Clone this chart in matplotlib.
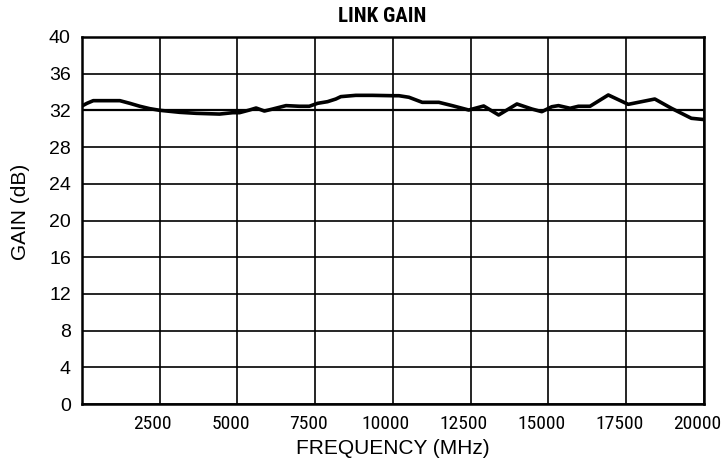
import matplotlib
matplotlib.use("Agg")
import matplotlib.pyplot as plt
import matplotlib.transforms as mtrans

# frequency (MHz) and link gain (dB)
freq = [0, 160, 363, 1218, 1538, 1859, 2179, 2500, 3141, 3675, 4423, 4850,
        5064, 5385, 5599, 5865, 6132, 6560, 6987, 7308, 7575, 7895, 8162,
        8323, 8804, 9338, 9979, 10192, 10513, 10940, 11474, 11902, 12436,
        12917, 13397, 13985, 14466, 14786, 15107, 15321, 15694, 15962, 16336,
        16923, 17564, 18419, 18953, 19594, 19915, 20000]
gain = [32.48, 32.77, 33.06, 33.06, 32.77, 32.45, 32.19, 32.01, 31.79, 31.68,
        31.6, 31.75, 31.75, 32.04, 32.26, 31.93, 32.15, 32.52, 32.45, 32.45,
        32.77, 32.95, 33.24, 33.5, 33.64, 33.64, 33.6, 33.6, 33.43, 32.88,
        32.88, 32.52, 32.04, 32.48, 31.5, 32.7, 32.15, 31.86, 32.4, 32.52,
        32.23, 32.45, 32.45, 33.68, 32.66, 33.24, 32.23, 31.14, 31.03, 31.0]
ref_gain = 32

xticks = [2500, 5000, 7500, 10000, 12500, 15000, 17500, 20000]
yticks = [0, 4, 8, 12, 16, 20, 24, 28, 32, 36, 40]

narrow = ["Liberation Sans Narrow", "Roboto Condensed", "DejaVu Sans"]
plain = ["Liberation Sans", "DejaVu Sans"]

fig = plt.figure(figsize=(7.21, 4.70), dpi=100)
ax = fig.add_axes([0.1137, 0.1404, 0.8627, 0.7809])

ax.plot(freq, gain, color="black", lw=2.6, zorder=3,
        solid_joinstyle="round", solid_capstyle="round")
ax.axhline(ref_gain, color="black", lw=1.6, zorder=2)

ax.set_xlim(0, 20000)
ax.set_ylim(0, 40)
ax.set_xticks([0] + xticks)
ax.set_xticklabels([""] + [str(v) for v in xticks], family=narrow, fontsize=14)
ax.set_yticks(yticks)
ax.set_yticklabels([str(v) for v in yticks], family=plain, fontsize=14)
ax.tick_params(length=0)
ax.tick_params(axis="x", pad=8)
ax.tick_params(axis="y", pad=8)

# x tick labels sit a little left of their gridlines in the reference
shift = mtrans.ScaledTranslation(-7 / 100, 0, fig.dpi_scale_trans)
for lab in ax.get_xticklabels():
    lab.set_transform(lab.get_transform() + shift)

ax.grid(True, color="black", lw=1.2)
for s in ax.spines.values():
    s.set_linewidth(1.8)

ax.set_xlabel("FREQUENCY (MHz)", family=plain, fontsize=15, labelpad=4)
ax.set_ylabel("GAIN (dB)", family=plain, fontsize=15)
ax.yaxis.set_label_coords(-0.0836, 0.523)
fig.text(382 / 721, 1 - 17 / 470, "LINK GAIN", family=narrow, fontsize=15,
         fontweight="bold", ha="center", va="center")

fig.savefig("out.png", dpi=100)
